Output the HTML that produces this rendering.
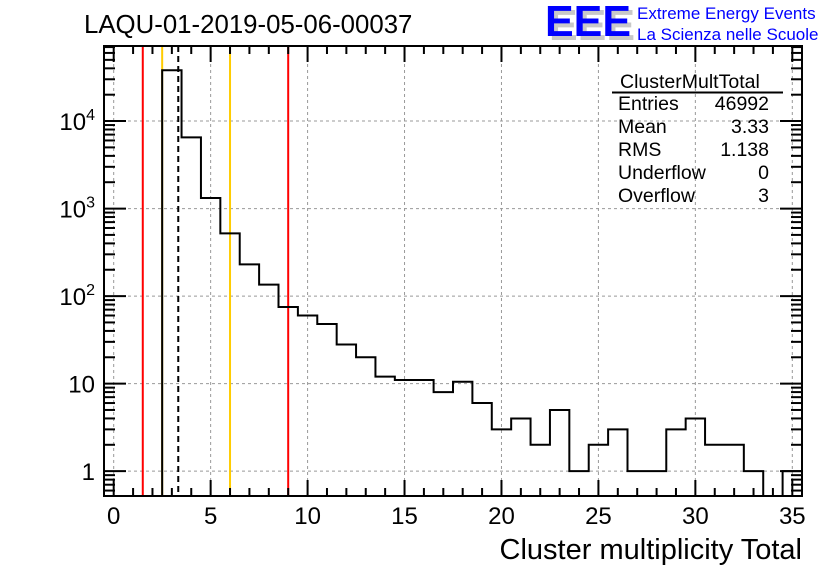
<!DOCTYPE html>
<html><head><meta charset="utf-8"><style>
body{margin:0;background:#fff;}
svg{display:block;font-family:"Liberation Sans",Arial,sans-serif;}
</style></head><body>
<svg id="chart" width="836" height="572" viewBox="0 0 836 572" xmlns="http://www.w3.org/2000/svg">
<rect width="836" height="572" fill="#fff"/>
<text x="84" y="33" font-size="25.8">LAQU-01-2019-05-06-00037</text>
<g>
<text x="549" y="40" font-size="44" font-weight="bold" fill="#c8c8c8" textLength="86" lengthAdjust="spacingAndGlyphs">EEE</text>
<text x="545" y="36" font-size="44" font-weight="bold" fill="#0000ff" textLength="86" lengthAdjust="spacingAndGlyphs">EEE</text>
<text x="637" y="19" font-size="17" fill="#0000ff">Extreme Energy Events</text>
<text x="637" y="40" font-size="17" fill="#0000ff">La Scienza nelle Scuole</text>
</g>
<g id="grid"></g>
<g id="marks"></g>
<g id="axes"></g>
<g font-size="19.5">
<text x="620" y="88">ClusterMultTotal</text>
<line x1="612" y1="92.5" x2="783" y2="92.5" stroke="#000" stroke-width="2"/>
<text x="618" y="110">Entries</text><text x="769" y="110" text-anchor="end">46992</text>
<text x="618" y="133">Mean</text><text x="769" y="133" text-anchor="end">3.33</text>
<text x="618" y="156">RMS</text><text x="769" y="156" text-anchor="end">1.138</text>
<text x="618" y="179">Underflow</text><text x="769" y="179" text-anchor="end">0</text>
<text x="618" y="202">Overflow</text><text x="769" y="202" text-anchor="end">3</text>
</g>
<text x="802" y="559" font-size="29" text-anchor="end">Cluster multiplicity Total</text>
</svg>
<script>
const binCenters=[3,4,5,6,7,8,9,10,11,12,13,14,15,16,17,18,19,20,21,22,23,24,25,26,27,28,29,30,31,32,33,34,35];
const counts=[38000,6500,1320,520,230,135,75,60,48,28,20,12,11,11,8,10.5,6,3,4,2,5,1,2,3,1,1,3,4,2,2,1,0,1];
const xTicks=[0,5,10,15,20,25,30,35];
const yTickVals=[1,10,100,1000,10000];
const yTickLabels=["1","10","10²","10³","10⁴"];
const redLines=[1.5,9.0];
const yellowLines=[2.5,6.0];
const meanValue=[3.33];

const L=104,R=802,T=46,B=496,XMIN=-0.5,XMAX=35.5,YMIN=0.52,YMAX=72000;
const NS="http://www.w3.org/2000/svg";
const sx=v=>L+(v-XMIN)/(XMAX-XMIN)*(R-L);
const sy=v=>B-(Math.log10(Math.max(v,YMIN))-Math.log10(YMIN))/(Math.log10(YMAX)-Math.log10(YMIN))*(B-T);
function mk(tag,attrs,parent){const e=document.createElementNS(NS,tag);for(const k in attrs)e.setAttribute(k,attrs[k]);parent.appendChild(e);return e;}
const grid=document.getElementById('grid'),marks=document.getElementById('marks'),axes=document.getElementById('axes');
xTicks.forEach(t=>{const g=mk('line',{x1:sx(t),x2:sx(t),y1:T,y2:B,stroke:'#999','stroke-dasharray':'3,3','stroke-width':1},grid);

});
yTickVals.forEach(t=>{const g=mk('line',{x1:L,x2:R,y1:sy(t),y2:sy(t),stroke:'#999','stroke-dasharray':'3,3','stroke-width':1},grid);

});
redLines.forEach(v=>{const l=mk('line',{x1:sx(v),x2:sx(v),y1:T,y2:B,stroke:'#ff0000','stroke-width':2},marks);

});
yellowLines.forEach(v=>{const l=mk('line',{x1:sx(v),x2:sx(v),y1:T,y2:B,stroke:'#ffcc00','stroke-width':2},marks);

});
meanValue.forEach(v=>{const l=mk('line',{x1:sx(v),x2:sx(v),y1:T,y2:B,stroke:'#000','stroke-width':2,'stroke-dasharray':'6,4'},marks);

});
let d='';
binCenters.forEach((c,i)=>{const x0=sx(c-0.5),x1=sx(c+0.5),y=counts[i]>0?sy(counts[i]):B;
if(i===0)d+=`M${x0},${B}`;d+=` L${x0},${y} L${x1},${y}`;});
d+=` L${sx(binCenters[binCenters.length-1]+0.5)},${B}`;
const h=mk('path',{d:d,fill:'none',stroke:'#000','stroke-width':2},marks);


const fr=mk('rect',{x:L,y:T,width:R-L,height:B-T,fill:'none',stroke:'#000','stroke-width':2},axes);


for(let v=0;v<=35;v++){const len=v%5===0?16:8;
mk('line',{x1:sx(v),x2:sx(v),y1:B,y2:B-len,stroke:'#000','stroke-width':2},axes);
mk('line',{x1:sx(v),x2:sx(v),y1:T,y2:T+len,stroke:'#000','stroke-width':2},axes);}
xTicks.forEach(t=>{const tx=mk('text',{x:sx(t),y:B+28,'font-size':24,'text-anchor':'middle'},axes);tx.textContent=t;

});
for(let e=-1;e<=4;e++){for(let m=1;m<=9;m++){const v=m*Math.pow(10,e);if(v<YMIN||v>YMAX)continue;const len=m===1?22:11;
mk('line',{x1:L,x2:L+len,y1:sy(v),y2:sy(v),stroke:'#000','stroke-width':2},axes);
mk('line',{x1:R,x2:R-len,y1:sy(v),y2:sy(v),stroke:'#000','stroke-width':2},axes);}}
yTickVals.forEach((t,i)=>{const tx=mk('text',{x:L-9,y:sy(t)+9,'font-size':24,'text-anchor':'end'},axes);


const lab=yTickLabels[i];
if(lab.length>2&&lab.startsWith('10')&&!/^\d+$/.test(lab)){tx.textContent='10';const s=mk('tspan',{dy:-10,'font-size':16},tx);s.textContent=lab.slice(2)==='²'?'2':lab.slice(2)==='³'?'3':'4';}
else tx.textContent=lab;});
</script>
</body></html>
